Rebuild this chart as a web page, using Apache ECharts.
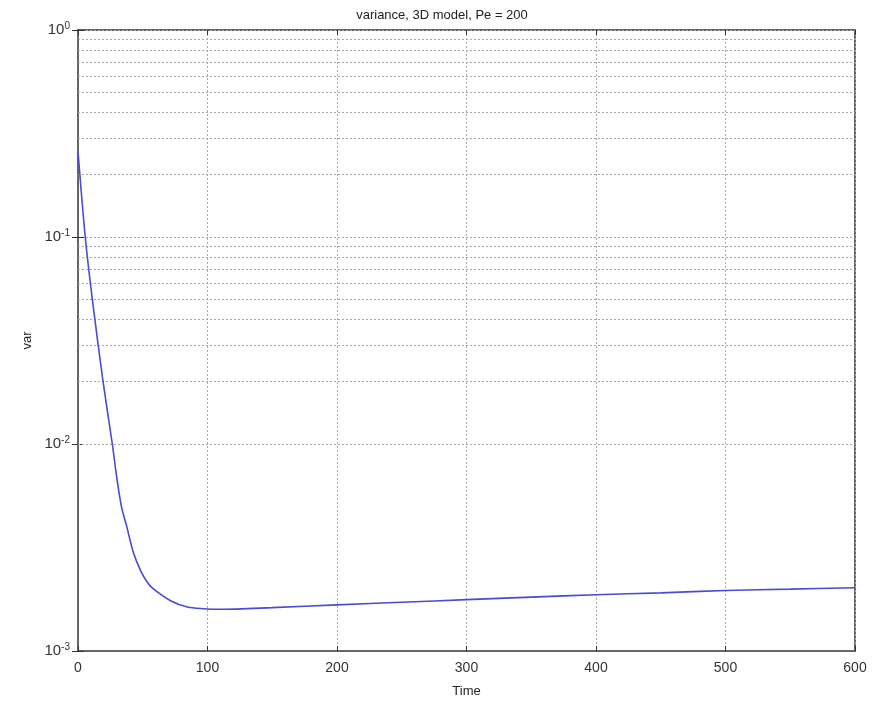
<!DOCTYPE html>
<html><head><meta charset="utf-8">
<script src="https://cdn.jsdelivr.net/npm/echarts@6/dist/echarts.min.js"></script>
<style>html,body{margin:0;padding:0;background:#fff}#c{width:884px;height:703px}</style>
</head><body><div id="c"></div>
<script>
const times = [0,5.6,11,19.3,26.5,29.5,33.5,37.6,42.7,48.4,53.5,58,71.5,84.4,97,110,150,200,250,300,350,400,450,500,550,600];
const variance = [0.259,0.1,0.0504,0.0201,0.01,0.0072,0.005,0.004,0.003,0.00244,0.00215,0.002,0.00175,0.00163,0.0016,0.00159,0.00162,0.00167,0.00172,0.00177,0.00182,0.00187,0.00191,0.00196,0.00199,0.00202];
const minorGridValues = [0.002,0.003,0.004,0.005,0.006,0.007,0.008,0.009,0.02,0.03,0.04,0.05,0.06,0.07,0.08,0.09,0.2,0.3,0.4,0.5,0.6,0.7,0.8,0.9];
const titleText = 'variance, 3D model, Pe = 200';

const chart = echarts.init(document.getElementById('c'));
const font = 'Liberation Sans';
const gridDot = {color:'#a8a8a8', type:[2,2], width:1};
chart.setOption({
  animation:false,
  title:{text:titleText,left:'center',top:4,textStyle:{fontFamily:font,fontSize:13,fontWeight:'normal',color:'#222'}},
  grid:{left:78,right:29,top:30,bottom:49,show:true,borderColor:'#666',borderWidth:2,backgroundColor:'#fff'},
  xAxis:[{type:'value',min:0,max:600,interval:100,name:'Time',nameLocation:'middle',nameGap:34,
    nameTextStyle:{fontFamily:font,fontSize:13,color:'#222'},
    axisLine:{lineStyle:{color:'#666',width:2}},
    axisTick:{inside:true,length:5,lineStyle:{color:'#333'}},
    axisLabel:{fontFamily:font,fontSize:14,color:'#333',margin:10},
    splitLine:{show:true,lineStyle:gridDot}},
   {type:'value',min:0,max:600,interval:100,position:'top',axisLine:{show:false},
    axisTick:{inside:true,length:5,lineStyle:{color:'#333'}},axisLabel:{show:false},splitLine:{show:false}}],
  yAxis:[{type:'log',logBase:10,min:0.001,max:1,name:'var',nameLocation:'middle',nameGap:44,
    nameTextStyle:{fontFamily:font,fontSize:13,color:'#222'},
    axisLine:{lineStyle:{color:'#666',width:2}},
    axisTick:{inside:true,length:6,lineStyle:{color:'#333'}},
    axisLabel:{fontFamily:font,fontSize:15,color:'#333',margin:8,
      formatter:function(v){const e=Math.round(Math.log10(v));return '10{s|'+e+'}';},
      rich:{s:{fontSize:10,verticalAlign:'top',padding:[0,0,8,0],fontFamily:font,color:'#333'}}},
    splitLine:{show:true,lineStyle:gridDot}},
   {type:'log',logBase:10,min:0.001,max:1,position:'right',axisLine:{show:false},
    axisTick:{inside:true,length:6,lineStyle:{color:'#333'}},axisLabel:{show:false},splitLine:{show:false}}],
  series:[{type:'line',data:times.map((t,i)=>[t,variance[i]]),showSymbol:false,smooth:0.3,
    lineStyle:{color:'#4a4ad6',width:1.6},z:5,
    markLine:{silent:true,symbol:'none',label:{show:false},lineStyle:gridDot,z:1,
      data:minorGridValues.map(v=>({yAxis:v}))}}]
});
</script></body></html>
